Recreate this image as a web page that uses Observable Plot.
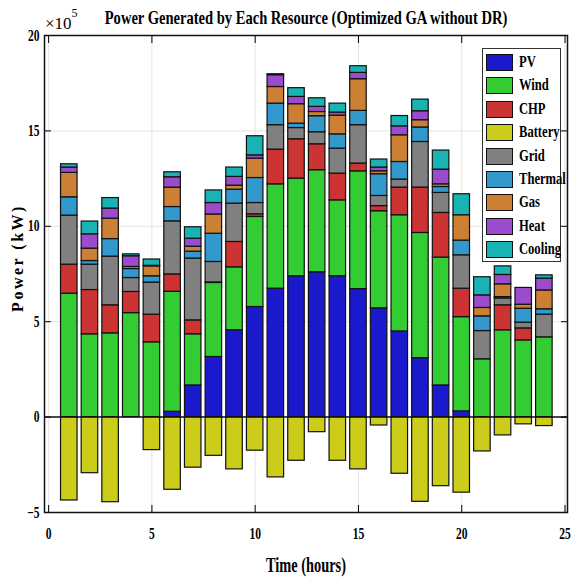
<!DOCTYPE html>
<html>
<head>
<meta charset="utf-8">
<script src="https://cdn.jsdelivr.net/npm/d3@7"></script>
<script src="https://cdn.jsdelivr.net/npm/@observablehq/plot@0.6"></script>
<style>
  html, body { margin: 0; padding: 0; background: #fff; }
  #wrap { position: relative; width: 571px; height: 581px; overflow: hidden; font-family: "Liberation Serif", "Times New Roman", serif; }
  #legend { position: absolute; left: 482px; top: 48px; width: 77px; height: 212px; border: 1.5px solid #333; background: #fff; box-sizing: content-box; }
  .item { position: absolute; left: 3px; height: 18px; width: 76px; }
  .sw { position: absolute; left: 0; top: 0; width: 25px; height: 15px; border: 1.5px solid #111; }
  .lab { position: absolute; left: 33px; top: -2px; font-weight: bold; font-size: 17px; line-height: 20px; white-space: nowrap; transform: scaleX(0.74); transform-origin: left center; color: #000; }
</style>
</head>
<body>
<div id="wrap"></div>
<script>
// ---- data (values in 10^5 kW) ----
const hours = [1,2,3,4,5,6,7,8,9,10,11,12,13,14,15,16,17,18,19,20,21,22,23,24];
const pv      = [0,0,0,0,0,0.28,1.66,3.15,4.55,5.77,6.73,7.38,7.59,7.38,6.71,5.70,4.49,3.09,1.66,0.30,0,0,0,0];
const wind    = [6.47,4.34,4.39,5.45,3.92,6.29,2.68,3.88,3.30,4.72,5.47,5.12,5.35,3.98,6.17,5.09,6.09,6.56,6.70,4.94,3.03,4.55,4.02,4.18];
const chp     = [1.52,2.32,1.47,1.11,1.45,0.91,0.73,0.03,1.33,0.14,1.82,2.06,1.36,1.40,0.41,0.27,1.45,2.38,2.34,1.49,0,1.31,0.63,0];
const battery = [-4.37,-2.94,-4.46,0,-1.73,-3.81,-2.65,-2.03,-2.74,-1.76,-3.16,-2.29,-0.79,-2.29,-2.74,-0.44,-2.97,-4.44,-3.62,-3.96,-1.80,-0.96,-0.38,-0.47];
const grid    = [2.57,1.33,2.55,0.73,1.68,2.78,3.24,1.07,2.01,0.59,1.28,0.59,0.63,1.31,2.01,0.53,0.42,2.39,1.05,1.75,1.48,0.36,0.30,1.19];
const thermal = [0.96,0.19,0.92,0.47,0.33,0.75,0.36,1.48,0.73,1.31,1.13,0.23,0.84,0.75,0.75,1.14,0.92,0.76,0.31,0.77,0.77,0.07,0.73,0.28];
const gas     = [1.28,0.65,1.07,0.11,0.52,1.02,0.26,1.01,0.21,1.02,0.87,1.02,0.22,0.98,1.66,0.15,1.40,0.38,0.14,1.33,0.44,0.67,0.21,0.99];
const heat    = [0.28,0.75,0.53,0.56,0.03,0.54,0.42,0.60,0.46,0.17,0.62,0.38,0.27,0.16,0.33,0.20,0.47,0.47,0.77,0,0.66,0.49,0.88,0.62];
const cooling = [0.17,0.67,0.55,0.10,0.33,0.26,0.60,0.66,0.49,1.00,0.05,0.46,0.45,0.47,0.35,0.42,0.54,0.61,1.00,1.10,0.95,0.45,0,0.17];

const seriesNames = ["PV","Wind","CHP","Battery","Grid","Thermal","Gas","Heat","Cooling"];
const seriesColors = ["#1a1acc","#33cc33","#cc3333","#cccc1a","#808080","#3399cc","#cc8033","#9a4ccc","#1ab3b3"];
const xTicks = [0,5,10,15,20,25];
const yTicks = [-5,0,5,10,15,20];
const titleText = "Power Generated by Each Resource (Optimized GA without DR)";
const xLabel = "Time (hours)";
const yLabel = "Power (kW)";

const seriesValues = [pv, wind, chp, battery, grid, thermal, gas, heat, cooling];
const data = [];
seriesNames.forEach((name, s) => {
  seriesValues[s].forEach((v, i) => data.push({hour: hours[i], series: name, value: v}));
});

const halfBar = 0.4;
const axisFont = {fontSize: 17, fontWeight: "bold"};

const chart = Plot.plot({
  width: 571,
  height: 581,
  marginLeft: 44,
  marginRight: 4,
  marginTop: 35,
  marginBottom: 69,
  style: {fontFamily: "'Liberation Serif', 'Times New Roman', serif", background: "white", overflow: "visible"},
  x: {domain: [-0.2, 25.12], label: null},
  y: {domain: [-5, 20], label: null},
  color: {domain: seriesNames, range: seriesColors},
  marks: [
    Plot.gridY(yTicks, {stroke: "#e3e3e3", strokeOpacity: 1}),
    Plot.gridX(xTicks, {stroke: "#e3e3e3", strokeOpacity: 1}),
    Plot.rectY(data, {
      x1: d => d.hour - halfBar,
      x2: d => d.hour + halfBar,
      y: "value",
      fill: "series",
      order: seriesNames,
      stroke: "#111",
      strokeWidth: 1.2
    }),
    Plot.ruleY([0], {stroke: "#111", strokeWidth: 1.5}),
    Plot.axisX(xTicks, {anchor: "bottom", tickSize: 0, tickPadding: 14, label: null, ...axisFont}),
    Plot.axisX(xTicks, {anchor: "bottom", tickSize: -7, tickFormat: () => "", label: null}),
    Plot.axisX(xTicks, {anchor: "top", tickSize: -7, tickFormat: () => "", label: null}),
    Plot.axisY(yTicks, {anchor: "left", tickSize: 0, tickPadding: 5, label: null, ...axisFont, fontSize: 16}),
    Plot.axisY(yTicks, {anchor: "left", tickSize: -7, tickFormat: () => "", label: null}),
    Plot.axisY(yTicks, {anchor: "right", tickSize: -7, tickFormat: () => "", label: null}),
    Plot.frame({stroke: "#111", strokeWidth: 1.5})
  ]
});

const wrap = document.getElementById("wrap");
wrap.appendChild(chart);
const svg = d3.select(chart);

// horizontally squeeze text around its anchor point (reference fonts look condensed)
function squeeze(nodes, k) {
  nodes.each(function() {
    const t = this.getAttribute("transform") || "";
    this.setAttribute("transform", t + ` scale(${k},1)`);
  });
}
squeeze(svg.selectAll('g[aria-label="x-axis tick label"] text'), 0.68);
squeeze(svg.selectAll('g[aria-label="y-axis tick label"] text'), 0.72);

// title
const title = svg.append("text")
  .attr("transform", "translate(306,24)")
  .attr("text-anchor", "middle")
  .attr("font-size", 19).attr("font-weight", "bold")
  .text(titleText);
{
  const len = title.node().getComputedTextLength();
  title.attr("transform", `translate(306,24) scale(${403 / len},1)`);
}

// exponent
const ex = svg.append("text").attr("x", 45).attr("y", 29).attr("font-size", 17).attr("text-anchor", "start");
ex.append("tspan").text("\u00d710");
ex.append("tspan").attr("dy", -12).attr("font-size", 12).text("5");

// x label
const xl = svg.append("text")
  .attr("transform", "translate(306,572)")
  .attr("text-anchor", "middle")
  .attr("font-size", 20).attr("font-weight", "bold")
  .text(xLabel);
{
  const len = xl.node().getComputedTextLength();
  xl.attr("transform", `translate(306,572) scale(${80 / len},1)`);
}

// y label
svg.append("text")
  .attr("transform", "translate(23,258) rotate(-90)")
  .attr("text-anchor", "middle")
  .attr("font-size", 16).attr("font-weight", "bold")
  .attr("letter-spacing", 2.5)
  .text(yLabel);

// legend
const legend = document.createElement("div");
legend.id = "legend";
seriesNames.forEach((name, i) => {
  const item = document.createElement("div");
  item.className = "item";
  item.style.top = (5 + i * 23.4) + "px";
  const sw = document.createElement("div");
  sw.className = "sw";
  sw.style.background = seriesColors[i];
  const lab = document.createElement("div");
  lab.className = "lab";
  lab.textContent = name;
  item.appendChild(sw);
  item.appendChild(lab);
  legend.appendChild(item);
});
wrap.appendChild(legend);
</script>
</body>
</html>
